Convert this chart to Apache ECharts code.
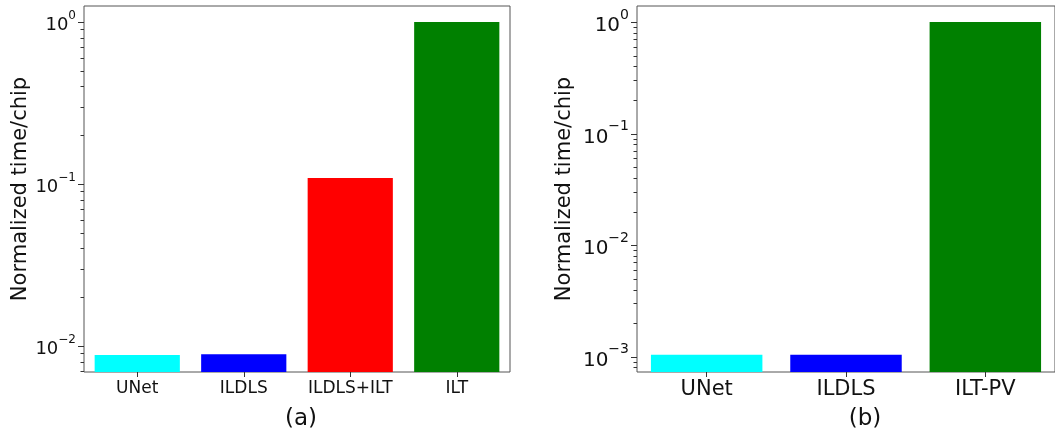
<!DOCTYPE html>
<html>
<head>
<meta charset="utf-8">
<script src="https://cdn.jsdelivr.net/npm/echarts@6/dist/echarts.min.js"></script>
<style>
  html, body { margin: 0; padding: 0; background: #fff; }
  #chart { width: 1055px; height: 434px; }
</style>
</head>
<body>
<div id="chart"></div>
<script>
// Panel (a): runtime per chip, normalized to ILT
const panelACategories = ['UNet', 'ILDLS', 'ILDLS+ILT', 'ILT'];
const panelAValues = [0.0088, 0.0089, 0.109, 1.0];
const panelAColors = ['#00ffff', '#0000ff', '#ff0000', '#008000'];
const panelARange = [0.00691, 1.2555];

// Panel (b): runtime per chip, normalized to ILT-PV
const panelBCategories = ['UNet', 'ILDLS', 'ILT-PV'];
const panelBValues = [0.00104, 0.00104, 1.0];
const panelBColors = ['#00ffff', '#0000ff', '#008000'];
const panelBRange = [0.000729, 1.391];

const yTitle = 'Normalized time/chip';
const panelLabels = ['(a)', '(b)'];

const FONT = 'DejaVu Sans';
const TEXT = '#111';
const FRAME = '#555';
const GRID_LEFT = [84, 637];

// Tick label "10^k" as rich text: base and raised exponent
function powerLabel(v) {
  const e = Math.log10(v);
  const r = Math.round(e);
  if (Math.abs(e - r) > 1e-6) return '';
  return '{b|10}{s|' + (r < 0 ? '\u2212' + (-r) : r) + '}';
}

// Decade (major) and 2..9 (minor) tick values inside a log range
function logTicks(range) {
  const out = [];
  const lo = Math.floor(Math.log10(range[0]));
  const hi = Math.ceil(Math.log10(range[1]));
  for (let k = lo; k <= hi; k++) {
    for (let m = 1; m <= 9; m++) {
      const v = m * Math.pow(10, k);
      if (v >= range[0] * 1.0001 && v <= range[1] / 1.0001) out.push({ v: v, major: m === 1 });
    }
  }
  return out;
}

function yAxisFor(range, gridIndex, baseSize, supSize, lineH, nameGap) {
  return {
    type: 'log',
    gridIndex: gridIndex,
    logBase: 10,
    min: range[0],
    max: range[1],
    startValue: range[0],
    name: yTitle,
    nameLocation: 'middle',
    nameGap: nameGap,
    nameTextStyle: { fontFamily: FONT, fontSize: 21, color: TEXT },
    axisLine: { show: false },
    axisTick: { show: false },
    splitLine: { show: false },
    minorTick: { show: false },
    axisLabel: {
      fontFamily: FONT, color: TEXT, margin: 8,
      showMinLabel: true, showMaxLabel: true,
      formatter: powerLabel,
      rich: {
        b: { fontFamily: FONT, fontSize: baseSize, color: TEXT, lineHeight: lineH, verticalAlign: 'bottom' },
        s: { fontFamily: FONT, fontSize: supSize, color: TEXT, lineHeight: supSize, verticalAlign: 'top' }
      }
    }
  };
}

function xAxisFor(cats, gridIndex, labelSize, margin) {
  return {
    type: 'category',
    gridIndex: gridIndex,
    data: cats,
    axisLine: { show: false },
    axisTick: { show: true, alignWithLabel: true, length: 5, lineStyle: { color: '#333', width: 1 } },
    axisLabel: { fontFamily: FONT, fontSize: labelSize, color: TEXT, margin: margin, interval: 0 }
  };
}

function barSeries(values, colors, idx) {
  return {
    type: 'bar',
    xAxisIndex: idx,
    yAxisIndex: idx,
    barWidth: '80%',
    data: values.map((v, i) => ({ value: v, itemStyle: { color: colors[i] } }))
  };
}

const chart = echarts.init(document.getElementById('chart'), null, { renderer: 'canvas' });
chart.setOption({
  animation: false,
  backgroundColor: '#fff',
  grid: [
    { left: GRID_LEFT[0], top: 6, width: 426, height: 366, show: true, borderColor: FRAME, borderWidth: 1, backgroundColor: 'transparent', containLabel: false },
    { left: GRID_LEFT[1], top: 6, width: 426, height: 366, show: true, borderColor: FRAME, borderWidth: 1, backgroundColor: 'transparent', containLabel: false }
  ],
  xAxis: [
    xAxisFor(panelACategories, 0, 17, 8),
    xAxisFor(panelBCategories, 1, 21, 7)
  ],
  yAxis: [
    yAxisFor(panelARange, 0, 18, 12, 24, 48),
    yAxisFor(panelBRange, 1, 20, 14, 28, 62)
  ],
  series: [
    barSeries(panelAValues, panelAColors, 0),
    barSeries(panelBValues, panelBColors, 1)
  ]
});

// Log-axis major/minor tick marks, placed through each y axis's own scale
const graphics = [];
[panelARange, panelBRange].forEach((range, idx) => {
  logTicks(range).forEach(t => {
    const y = Math.round(chart.convertToPixel({ yAxisIndex: idx }, t.v)) + 0.5;
    const x0 = GRID_LEFT[idx];
    const len = t.major ? 6 : 3.5;
    graphics.push({
      type: 'line', silent: true, z: 10,
      shape: { x1: x0 - len, y1: y, x2: x0, y2: y },
      style: { stroke: '#333', lineWidth: 1 }
    });
  });
});
graphics.push(
  { type: 'text', x: 301, y: 419, style: { text: panelLabels[0], fontFamily: FONT, fontSize: 23, fill: TEXT, align: 'center', verticalAlign: 'middle' } },
  { type: 'text', x: 865, y: 419, style: { text: panelLabels[1], fontFamily: FONT, fontSize: 23, fill: TEXT, align: 'center', verticalAlign: 'middle' } }
);
chart.setOption({ graphic: graphics });
</script>
</body>
</html>
